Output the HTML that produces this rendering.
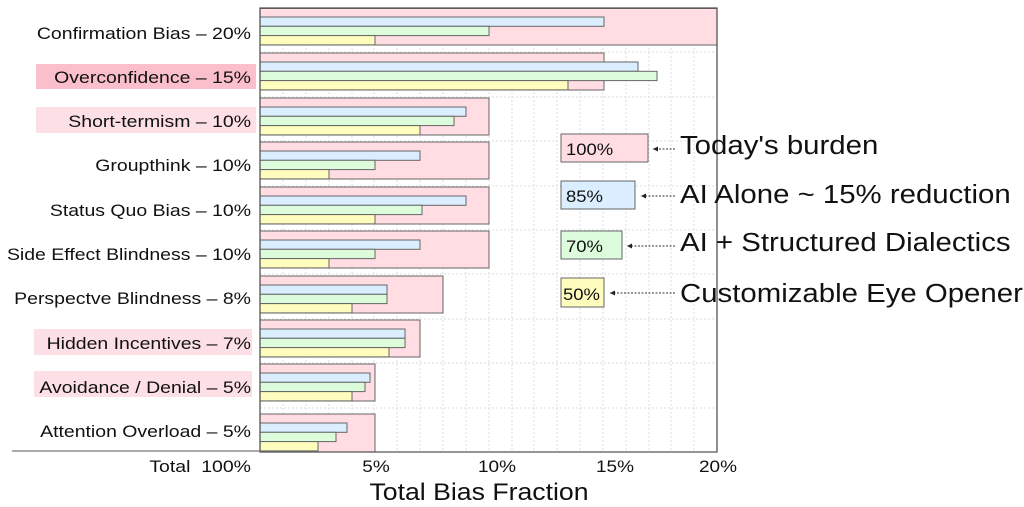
<!DOCTYPE html>
<html><head><meta charset="utf-8"><style>
body{margin:0;background:#fff}
svg{display:block;font-family:"Liberation Sans",sans-serif}
</style></head><body>
<svg width="1024" height="507" viewBox="0 0 1024 507" xmlns="http://www.w3.org/2000/svg">
<defs><marker id="ah" markerWidth="6" markerHeight="6" refX="5" refY="3" orient="auto"><path d="M0,0.5 L5,3 L0,5.5 z" fill="#222"/></marker></defs>
<g stroke="#ddd" stroke-width="1" stroke-dasharray="2,2">
<line x1="283" y1="8" x2="283" y2="452"/><line x1="306" y1="8" x2="306" y2="452"/><line x1="329" y1="8" x2="329" y2="452"/><line x1="352" y1="8" x2="352" y2="452"/><line x1="374" y1="8" x2="374" y2="452"/><line x1="397" y1="8" x2="397" y2="452"/><line x1="420" y1="8" x2="420" y2="452"/><line x1="443" y1="8" x2="443" y2="452"/><line x1="466" y1="8" x2="466" y2="452"/><line x1="489" y1="8" x2="489" y2="452"/><line x1="512" y1="8" x2="512" y2="452"/><line x1="534" y1="8" x2="534" y2="452"/><line x1="557" y1="8" x2="557" y2="452"/><line x1="580" y1="8" x2="580" y2="452"/><line x1="603" y1="8" x2="603" y2="452"/><line x1="626" y1="8" x2="626" y2="452"/><line x1="649" y1="8" x2="649" y2="452"/><line x1="671" y1="8" x2="671" y2="452"/><line x1="694" y1="8" x2="694" y2="452"/>
<line x1="260" y1="52" x2="717" y2="52"/><line x1="260" y1="97" x2="717" y2="97"/><line x1="260" y1="141" x2="717" y2="141"/><line x1="260" y1="186" x2="717" y2="186"/><line x1="260" y1="230" x2="717" y2="230"/><line x1="260" y1="274" x2="717" y2="274"/><line x1="260" y1="319" x2="717" y2="319"/><line x1="260" y1="363" x2="717" y2="363"/><line x1="260" y1="408" x2="717" y2="408"/>
</g>
<rect x="36" y="64" width="220" height="25" fill="#fbbfcc"/>
<rect x="36" y="107" width="220" height="26" fill="#fde0e6"/>
<rect x="34" y="329" width="218" height="26" fill="#fde0e6"/>
<rect x="34" y="371" width="218" height="26" fill="#fde0e6"/>
<g stroke="#666" stroke-width="1">
<rect x="260" y="8.5" width="457" height="36.5" fill="#ffdde3"/>
<rect x="260" y="17" width="344" height="9.3" fill="#dbeeff"/><rect x="260" y="26.3" width="229" height="9.3" fill="#ddfcdc"/><rect x="260" y="35.6" width="115" height="9.3" fill="#fefdbd"/>
<rect x="260" y="53" width="344" height="37" fill="#ffdde3"/>
<rect x="260" y="62" width="378" height="9.3" fill="#dbeeff"/><rect x="260" y="71.3" width="397" height="9.3" fill="#ddfcdc"/><rect x="260" y="80.6" width="308" height="9.3" fill="#fefdbd"/>
<rect x="260" y="98" width="229" height="37" fill="#ffdde3"/>
<rect x="260" y="107" width="206" height="9.3" fill="#dbeeff"/><rect x="260" y="116.3" width="194" height="9.3" fill="#ddfcdc"/><rect x="260" y="125.6" width="160" height="9.3" fill="#fefdbd"/>
<rect x="260" y="142" width="229" height="37" fill="#ffdde3"/>
<rect x="260" y="151" width="160" height="9.3" fill="#dbeeff"/><rect x="260" y="160.3" width="115" height="9.3" fill="#ddfcdc"/><rect x="260" y="169.6" width="69" height="9.3" fill="#fefdbd"/>
<rect x="260" y="187" width="229" height="37" fill="#ffdde3"/>
<rect x="260" y="196" width="206" height="9.3" fill="#dbeeff"/><rect x="260" y="205.3" width="162" height="9.3" fill="#ddfcdc"/><rect x="260" y="214.6" width="115" height="9.3" fill="#fefdbd"/>
<rect x="260" y="231" width="229" height="37" fill="#ffdde3"/>
<rect x="260" y="240" width="160" height="9.3" fill="#dbeeff"/><rect x="260" y="249.3" width="115" height="9.3" fill="#ddfcdc"/><rect x="260" y="258.6" width="69" height="9.3" fill="#fefdbd"/>
<rect x="260" y="276" width="183" height="37" fill="#ffdde3"/>
<rect x="260" y="285" width="127" height="9.3" fill="#dbeeff"/><rect x="260" y="294.3" width="127" height="9.3" fill="#ddfcdc"/><rect x="260" y="303.6" width="92" height="9.3" fill="#fefdbd"/>
<rect x="260" y="320" width="160" height="37" fill="#ffdde3"/>
<rect x="260" y="329" width="145" height="9.3" fill="#dbeeff"/><rect x="260" y="338.3" width="145" height="9.3" fill="#ddfcdc"/><rect x="260" y="347.6" width="129" height="9.3" fill="#fefdbd"/>
<rect x="260" y="364" width="115" height="37" fill="#ffdde3"/>
<rect x="260" y="373" width="110" height="9.3" fill="#dbeeff"/><rect x="260" y="382.3" width="105" height="9.3" fill="#ddfcdc"/><rect x="260" y="391.6" width="92" height="9.3" fill="#fefdbd"/>
<rect x="260" y="414" width="115" height="38" fill="#ffdde3"/>
<rect x="260" y="423" width="87" height="9.3" fill="#dbeeff"/><rect x="260" y="432.3" width="76" height="9.3" fill="#ddfcdc"/><rect x="260" y="441.6" width="58" height="9.3" fill="#fefdbd"/>
</g>
<path d="M260,8 H717 V452 H260 Z" fill="none" stroke="#555" stroke-width="1.3"/>
<line x1="12" y1="451" x2="260" y2="451" stroke="#777" stroke-width="1.3"/>
<g font-size="16.5" fill="#111" text-anchor="end" transform="translate(251,0) scale(1.18,1) translate(-251,0)">
<text x="251" y="39">Confirmation Bias – 20%</text>
<text x="251" y="83">Overconfidence – 15%</text>
<text x="251" y="127">Short-termism – 10%</text>
<text x="251" y="171">Groupthink – 10%</text>
<text x="251" y="216">Status Quo Bias – 10%</text>
<text x="251" y="260">Side Effect Blindness – 10%</text>
<text x="251" y="304">Perspectve Blindness – 8%</text>
<text x="251" y="349">Hidden Incentives – 7%</text>
<text x="251" y="393">Avoidance / Denial – 5%</text>
<text x="251" y="437">Attention Overload – 5%</text>
<text x="251" y="472" xml:space="preserve">Total  100%</text>
</g>
<g font-size="16.5" fill="#111" text-anchor="middle">
<text x="376" y="472" transform="translate(376,0) scale(1.15,1) translate(-376,0)">5%</text>
<text x="497" y="472" transform="translate(497,0) scale(1.15,1) translate(-497,0)">10%</text>
<text x="615" y="472" transform="translate(615,0) scale(1.15,1) translate(-615,0)">15%</text>
<text x="718" y="472" transform="translate(718,0) scale(1.15,1) translate(-718,0)">20%</text>
</g>
<text x="479" y="500" font-size="24" text-anchor="middle" fill="#111" transform="translate(479,0) scale(1.11,1) translate(-479,0)">Total Bias Fraction</text>
<g stroke="#666" stroke-width="1">
<rect x="561" y="134" width="87" height="28" fill="#ffdde3"/>
<rect x="561" y="181" width="74" height="28" fill="#dbeeff"/>
<rect x="561" y="231" width="61" height="28" fill="#ddfcdc"/>
<rect x="561" y="278" width="43" height="29" fill="#fefdbd"/>
</g>
<g font-size="16.5" fill="#111">
<text x="566" y="155" transform="translate(566,0) scale(1.12,1) translate(-566,0)">100%</text>
<text x="566" y="202" transform="translate(566,0) scale(1.12,1) translate(-566,0)">85%</text>
<text x="566" y="252" transform="translate(566,0) scale(1.12,1) translate(-566,0)">70%</text>
<text x="563" y="300" transform="translate(563,0) scale(1.12,1) translate(-563,0)">50%</text>
</g>
<g stroke="#333" stroke-width="1" stroke-dasharray="2,1.5" marker-end="url(#ah)">
<line x1="675" y1="149" x2="653" y2="149"/>
<line x1="675" y1="196" x2="641" y2="196"/>
<line x1="675" y1="246" x2="627" y2="246"/>
<line x1="675" y1="293" x2="610" y2="293"/>
</g>
<g font-size="26" fill="#111" transform="translate(680,0) scale(1.13,1) translate(-680,0)">
<text x="680" y="154">Today's burden</text>
<text x="680" y="203">AI Alone ~ 15% reduction</text>
<text x="680" y="251">AI + Structured Dialectics</text>
<text x="680" y="302">Customizable Eye Opener</text>
</g>
</svg>
</body></html>
